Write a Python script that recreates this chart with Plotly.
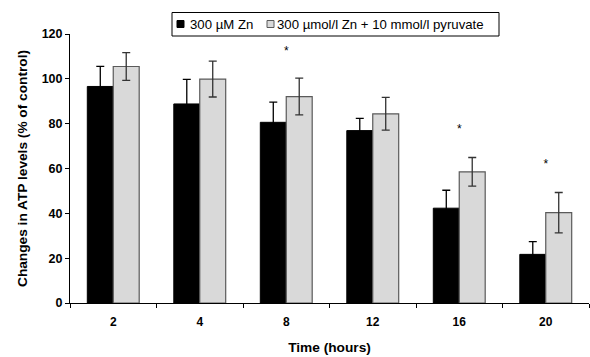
import plotly.graph_objects as go

times = ["2", "4", "8", "12", "16", "20"]
zn = [96.6, 88.8, 80.6, 76.9, 42.3, 21.7]
zn_err = [9.0, 11.0, 9.0, 5.5, 8.0, 5.7]
pyr = [105.5, 99.9, 92.1, 84.4, 58.5, 40.3]
pyr_err = [6.2, 8.0, 8.2, 7.3, 6.4, 9.0]
star_times = ["8", "16", "20"]
star_y = [112, 77, 61.5]
series_names = ["300 µM Zn", "300 µmol/l Zn + 10 mmol/l pyruvate"]

W, H = 590, 357
ML, MR, MT, MB = 70, 1, 34, 54
PW, PH = W - ML - MR, H - MT - MB


def px_x(px):
    return (px - ML) / PW


def px_y(py):
    return (H - MB - py) / PH


FONT = "Liberation Sans, Arial"
ZN_FILL, ZN_LINE = "black", "black"
PY_FILL, PY_LINE = "#d9d9d9", "#5a5a5a"

fig = go.Figure()
fig.add_trace(go.Bar(
    x=times, y=zn, name=series_names[0],
    marker=dict(color=ZN_FILL, line=dict(color=ZN_LINE, width=1)),
    error_y=dict(type="data", array=zn_err, color="black", thickness=1.3, width=4),
))
fig.add_trace(go.Bar(
    x=times, y=pyr, name=series_names[1],
    marker=dict(color=PY_FILL, line=dict(color=PY_LINE, width=1.2)),
    error_y=dict(type="data", array=pyr_err, color="#333333", thickness=1.3, width=4),
))
fig.add_trace(go.Scatter(
    x=star_times, y=star_y, mode="text", text=["*"] * len(star_times),
    textfont=dict(family=FONT, size=12, color="black"),
    showlegend=False, hoverinfo="skip", xaxis="x2",
))

# custom legend (box, swatches, labels)
shapes = [
    dict(type="rect", xref="paper", yref="paper",
         x0=px_x(172), x1=px_x(499), y0=px_y(36), y1=px_y(12.5),
         line=dict(color="black", width=1), fillcolor="white", layer="above"),
    dict(type="rect", xref="paper", yref="paper",
         x0=px_x(177), x1=px_x(184), y0=px_y(27.5), y1=px_y(20.5),
         line=dict(color=ZN_LINE, width=1), fillcolor=ZN_FILL, layer="above"),
    dict(type="rect", xref="paper", yref="paper",
         x0=px_x(267), x1=px_x(274), y0=px_y(27.5), y1=px_y(20.5),
         line=dict(color=PY_LINE, width=1), fillcolor=PY_FILL, layer="above"),
]
annotations = [
    dict(xref="paper", yref="paper", x=px_x(188), y=px_y(24), xanchor="left", yanchor="middle",
         text=series_names[0], showarrow=False, font=dict(family=FONT, size=13.2, color="black")),
    dict(xref="paper", yref="paper", x=px_x(275), y=px_y(24), xanchor="left", yanchor="middle",
         text=series_names[1], showarrow=False, font=dict(family=FONT, size=13.2, color="black")),
]

fig.update_layout(
    width=W, height=H,
    margin=dict(l=ML, r=MR, t=MT, b=MB, autoexpand=False),
    paper_bgcolor="white", plot_bgcolor="white",
    barmode="group", bargap=0.4, bargroupgap=0,
    font=dict(family=FONT, size=12, color="black"),
    showlegend=False,
    shapes=shapes, annotations=annotations,
    xaxis=dict(
        type="category", categoryorder="array", categoryarray=times,
        showline=True, linecolor="black", linewidth=1,
        ticks="outside", tickson="boundaries", ticklen=4, tickcolor="black",
        ticklabelstandoff=8,
        tickfont=dict(size=12, weight="bold"),
        title=dict(text="Time (hours)", font=dict(size=13.7, weight="bold"), standoff=14),
        showgrid=False, zeroline=False, automargin=False,
    ),
    xaxis2=dict(
        type="category", categoryorder="array", categoryarray=times,
        overlaying="x", visible=False, matches="x",
    ),
    yaxis=dict(
        range=[0, 120], tickvals=[0, 20, 40, 60, 80, 100, 120],
        showline=True, linecolor="black", linewidth=1,
        ticks="outside", ticklen=4, tickcolor="black",
        tickfont=dict(size=12.5, weight="bold"),
        title=dict(text="Changes in ATP levels (% of control)", font=dict(size=13.7, weight="bold"), standoff=10),
        showgrid=False, zeroline=False, automargin=False,
    ),
)

fig.write_html("out.html", config={"displayModeBar": False},
               post_script="document.body.style.margin='0';document.body.style.padding='0';")
